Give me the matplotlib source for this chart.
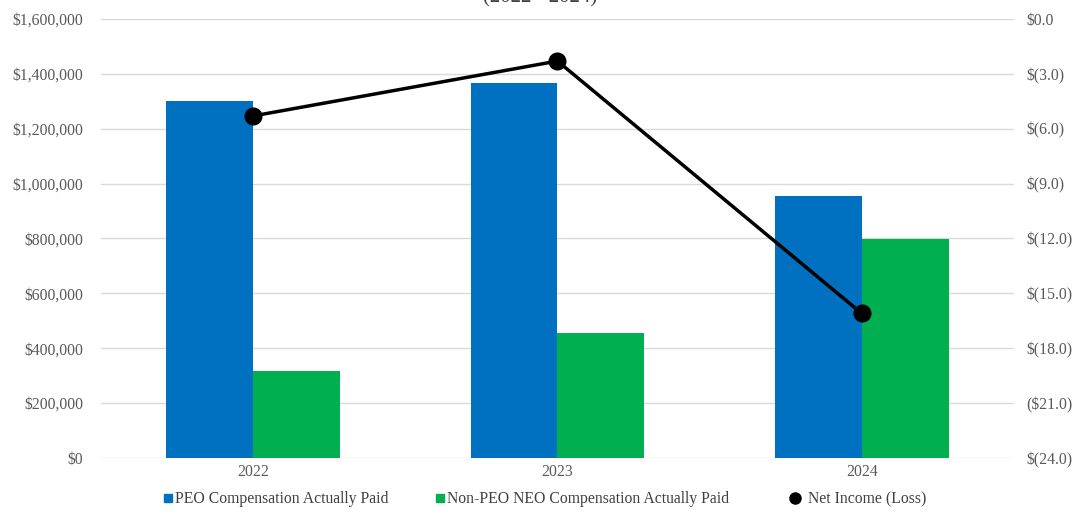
import matplotlib
matplotlib.use("Agg")
import matplotlib.pyplot as plt
from matplotlib.lines import Line2D
import numpy as np

years = ["2022", "2023", "2024"]
peo_cap = [1300000, 1367000, 955000]
non_peo_cap = [317000, 456000, 798000]
net_income = [-5.3, -2.3, -16.1]
left_ticks = [0, 200000, 400000, 600000, 800000, 1000000, 1200000, 1400000, 1600000]
left_labels = ["$0", "$200,000", "$400,000", "$600,000", "$800,000", "$1,000,000",
               "$1,200,000", "$1,400,000", "$1,600,000"]
right_ticks = [0, -3, -6, -9, -12, -15, -18, -21, -24]
right_labels = ["$0.0", "$(3.0)", "$(6.0)", "$(9.0)", "$(12.0)", "$(15.0)",
                "$(18.0)", "($21.0)", "$(24.0)"]

plt.rcParams['font.family'] = ['Liberation Serif', 'DejaVu Serif']

blue = "#0070C0"
green = "#00B050"
tick_color = "#595959"
fs = 11.3

W, H = 1087, 516
fig = plt.figure(figsize=(W / 100, H / 100), dpi=100)
ax = fig.add_axes([0.0929, 0.1124, 0.8399, 0.8508])
x = np.arange(len(years))
w = 0.285
ax.bar(x - w / 2, peo_cap, width=w, color=blue, zorder=2)
ax.bar(x + w / 2, non_peo_cap, width=w, color=green, zorder=2)
ax.set_xlim(-0.5, 2.5)
ax.set_ylim(0, 1600000)
ax.set_yticks(left_ticks)
ax.set_yticklabels(left_labels)
ax.set_xticks(x)
ax.set_xticklabels(years)
ax.grid(axis='y', color="#D9D9D9", linewidth=1, zorder=0)
for s in ax.spines.values():
    s.set_visible(False)
ax.tick_params(axis='y', length=0, pad=13, labelsize=fs, labelcolor=tick_color)
ax.tick_params(axis='x', length=0, pad=4, labelsize=fs, labelcolor=tick_color)

ax2 = ax.twinx()
ax2.plot(x, net_income, color="black", linewidth=2.5, marker='o', markersize=12, zorder=5)
ax2.set_ylim(-24, 0)
ax2.set_yticks(right_ticks)
ax2.set_yticklabels(right_labels)
for s in ax2.spines.values():
    s.set_visible(False)
ax2.tick_params(axis='y', length=0, pad=9, labelsize=fs, labelcolor=tick_color)

legend_items = [
    (Line2D([], [], marker='s', linestyle='none', color=blue, markersize=6),
     "PEO Compensation Actually Paid", 163, 0.15),
    (Line2D([], [], marker='s', linestyle='none', color=green, markersize=6),
     "Non-PEO NEO Compensation Actually Paid", 435, 0.15),
    (Line2D([], [], marker='o', linestyle='none', color='black', markersize=8),
     "Net Income (Loss)", 790, 0.55),
]
for h, lab, xp, pad in legend_items:
    fig.legend([h], [lab], loc='center left', bbox_to_anchor=(xp / W, 1 - 499 / H),
               frameon=False, fontsize=fs, handlelength=0.6, handletextpad=pad,
               borderpad=0, borderaxespad=0, labelcolor="#404040")

fig.text(0.497, 1.005, "(2022 - 2024)", ha='center', va='center', fontsize=15,
         color="#404040")

fig.savefig("out.png", dpi=100)
